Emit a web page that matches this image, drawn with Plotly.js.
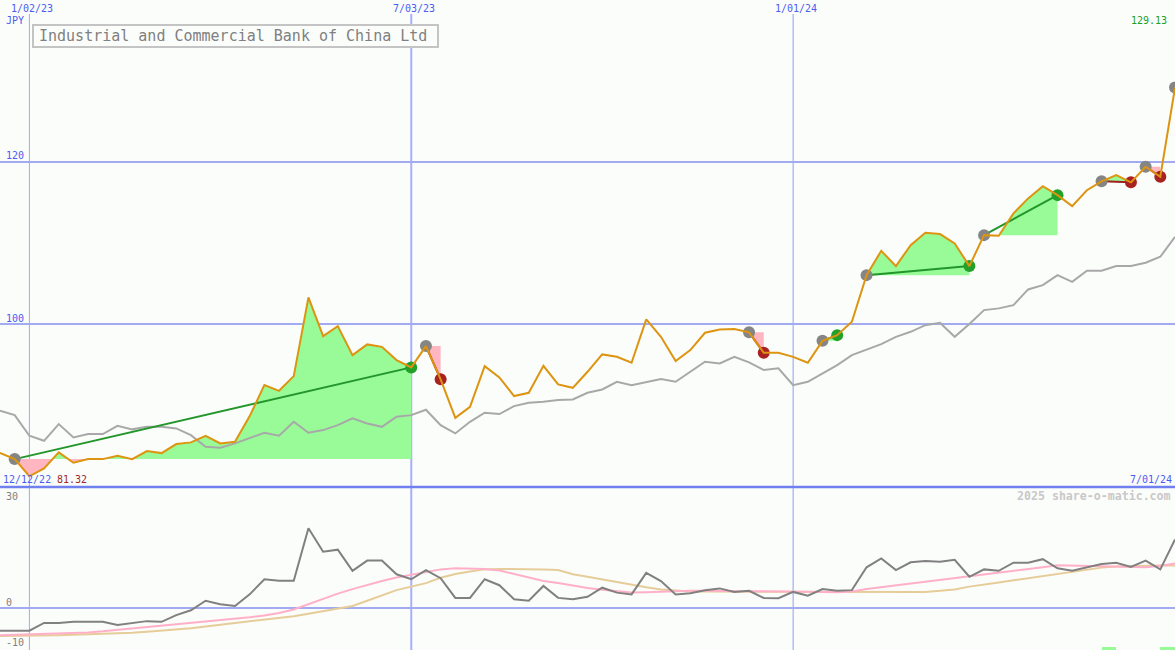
<!DOCTYPE html>
<html><head><meta charset="utf-8">
<script src="https://cdn.plot.ly/plotly-3.0.1.min.js"></script>
<style>html,body{margin:0;padding:0;background:#fbfdfb;} #chart{width:1175px;height:650px;}</style>
</head><body><div id="chart"></div>
<script>
const dates = ['2022-12-19','2022-12-26','2023-01-02','2023-01-09','2023-01-16','2023-01-23','2023-01-30','2023-02-06','2023-02-13','2023-02-20',
'2023-02-27','2023-03-06','2023-03-13','2023-03-20','2023-03-27','2023-04-03','2023-04-10','2023-04-17','2023-04-24','2023-05-01',
'2023-05-08','2023-05-15','2023-05-22','2023-05-29','2023-06-05','2023-06-12','2023-06-19','2023-06-26','2023-07-03','2023-07-10',
'2023-07-17','2023-07-24','2023-07-31','2023-08-07','2023-08-14','2023-08-21','2023-08-28','2023-09-04','2023-09-11','2023-09-18',
'2023-09-25','2023-10-02','2023-10-09','2023-10-16','2023-10-23','2023-10-30','2023-11-06','2023-11-13','2023-11-20','2023-11-27',
'2023-12-04','2023-12-11','2023-12-18','2023-12-25','2024-01-01','2024-01-08','2024-01-15','2024-01-22','2024-01-29','2024-02-05',
'2024-02-12','2024-02-19','2024-02-26','2024-03-04','2024-03-11','2024-03-18','2024-03-25','2024-04-01','2024-04-08','2024-04-15',
'2024-04-22','2024-04-29','2024-05-06','2024-05-13','2024-05-20','2024-05-27','2024-06-03','2024-06-10','2024-06-17','2024-06-24','2024-07-01'];

const price = [84.2,83.43,81.32,82.29,84.26,82.98,83.43,83.43,83.84,83.43,
84.42,84.17,85.28,85.49,86.3,85.36,85.56,88.72,92.53,91.83,
93.64,103.32,98.56,99.79,96.22,97.54,97.24,95.61,94.71,97.33,
93.24,88.51,89.86,94.87,93.48,91.18,91.59,94.91,92.62,92.2,
94.17,96.31,96.01,95.28,100.61,98.47,95.49,96.84,98.97,99.38,
99.42,99.02,96.51,96.51,96.01,95.28,97.98,98.68,100.32,106.06,
109.05,107.17,109.75,111.27,111.11,109.96,107.17,110.98,110.9,113.65,
115.5,117.0,115.9,114.55,116.5,117.6,118.36,117.47,119.39,118.16,129.13];

const compare = [89.37,88.84,86.3,85.68,87.74,86.1,86.51,86.51,87.53,87.09,
87.4,87.4,87.2,86.38,84.95,84.82,85.36,86.05,86.67,86.3,
88.02,86.67,87.0,87.61,88.44,87.82,87.4,88.64,88.84,89.5,
87.61,86.59,88.02,89.13,88.97,89.95,90.36,90.48,90.69,90.77,
91.59,92.0,92.94,92.53,92.94,93.27,92.94,94.17,95.4,95.2,
96.01,95.33,94.38,94.59,92.53,92.94,93.97,95.0,96.22,96.92,
97.58,98.47,99.09,99.9,100.2,98.47,100.04,101.76,101.97,102.37,
104.3,104.83,106.06,105.24,106.6,106.6,107.17,107.17,107.58,108.32,110.78];

const osc = [-6.5,-6.5,-6.5,-4.3,-4.3,-4.0,-4.0,-4.0,-4.9,-4.4,
-3.8,-4.0,-2.1,-0.7,2.0,1.0,0.5,3.8,8.1,7.7,
7.7,22.6,15.9,16.5,10.5,13.4,13.4,9.5,8.1,10.7,
8.4,2.8,2.8,8.1,6.4,2.4,2.0,6.2,2.8,2.4,
3.1,5.7,4.3,3.8,9.9,7.6,3.8,4.1,5.0,5.5,
4.5,4.8,2.8,2.7,4.5,3.4,5.3,4.8,5.0,11.5,
14.0,10.7,12.9,13.3,13.1,13.6,8.8,10.9,10.5,12.8,
12.8,13.8,11.2,10.5,11.5,12.4,12.8,11.6,13.4,10.9,19.4];

const oscFast = [-7.8,-7.7,-7.6,-7.5,-7.4,-7.2,-7.0,-6.7,-6.3,-6.0,
-5.6,-5.3,-4.9,-4.5,-4.0,-3.6,-3.1,-2.7,-2.2,-1.5,
-0.5,1.0,2.6,4.0,5.3,6.5,7.6,8.6,9.3,10.0,
10.9,11.2,11.2,11.0,10.6,9.6,8.5,7.6,7.0,6.2,
5.6,5.1,4.6,4.3,4.4,4.6,4.8,4.8,4.8,4.7,
4.7,4.7,4.7,4.7,4.7,4.6,4.5,4.4,4.6,5.3,
5.8,6.3,6.9,7.4,7.9,8.4,8.9,9.3,9.8,10.3,
10.9,11.5,12.1,12.0,11.9,11.9,11.9,11.7,11.5,11.9,12.6];

const oscSlow = [-8.0,-8.0,-7.9,-7.9,-7.8,-7.7,-7.6,-7.5,-7.3,-7.1,
-6.8,-6.5,-6.2,-5.8,-5.3,-4.8,-4.4,-4.0,-3.5,-3.0,
-2.4,-1.7,-1.0,-0.3,0.5,2.0,3.5,5.0,6.0,7.0,
8.5,9.6,10.3,10.9,11.0,11.0,11.0,10.9,10.7,9.5,
8.8,8.0,7.3,6.5,5.8,5.2,4.8,4.6,4.6,4.6,
4.6,4.6,4.6,4.6,4.7,4.7,4.7,4.7,4.7,4.7,
4.7,4.6,4.5,4.5,4.8,5.2,6.0,6.5,7.2,7.8,
8.4,9.0,9.7,10.3,10.8,11.4,11.7,11.9,11.9,12.0,12.0];

const tradeEntry = [1,29,51,56,59,67,75,78,80];
const tradeExit  = [28,30,52,57,66,72,77,79,null];

const barDates = ['2024-05-27','2024-06-24'];
const barValues = [0.85,0.85];

const priceTicks = [100,120];
const oscGrid = [0];
const oscTicks = [30,0,-10];
const dateTicks = ['2023-01-02','2023-07-03','2024-01-01'];
const dateTickText = ['1/02/23','7/03/23','1/01/24'];
const titleText = 'Industrial and Commercial Bank of China Ltd';
const currency = 'JPY';
const startLabel = '12/12/22';
const endLabel = '7/01/24';
const watermark = '2025 share-o-matic.com';

const MONO = 'DejaVu Sans Mono, Liberation Mono, monospace';
const BLUE = '#4c5cf0';
const GRID = '#a2aaf2';
const GREEN_FILL = '#98fb98';
const PINK_FILL = '#ffb6c1';
const tms = dates.map(d => Date.parse(d + 'T00:00:00Z'));

const traces = [];

// trade fills
tradeEntry.forEach((a, k) => {
  const b = tradeExit[k];
  if (b === null) return;
  const L = price[a];
  const xs = [tms[a]], up = [Math.max(price[a], L)], dn = [Math.min(price[a], L)];
  for (let j = a; j < b; j++) {
    const p0 = price[j] - L, p1 = price[j + 1] - L;
    if (p0 * p1 < 0) {
      const f = p0 / (p0 - p1);
      xs.push(tms[j] + f * (tms[j + 1] - tms[j])); up.push(L); dn.push(L);
    }
    xs.push(tms[j + 1]); up.push(Math.max(price[j + 1], L)); dn.push(Math.min(price[j + 1], L));
  }
  traces.push({x: xs.concat([tms[b], tms[a]]), y: up.concat([L, L]), xaxis:'x', yaxis:'y',
    mode:'lines', fill:'toself', fillcolor:GREEN_FILL, line:{width:0}, hoverinfo:'skip'});
  traces.push({x: xs.concat([tms[b], tms[a]]), y: dn.concat([L, L]), xaxis:'x', yaxis:'y',
    mode:'lines', fill:'toself', fillcolor:PINK_FILL, line:{width:0}, hoverinfo:'skip'});
});

// comparison line
traces.push({x: dates, y: compare, xaxis:'x', yaxis:'y', mode:'lines', line:{color:'#a8a8a8', width:2}, hoverinfo:'skip'});

// trade lines
tradeEntry.forEach((a, k) => {
  const b = tradeExit[k];
  if (b === null) return;
  const win = price[b] >= price[a];
  traces.push({x:[dates[a], dates[b]], y:[price[a], price[b]], xaxis:'x', yaxis:'y', mode:'lines',
    line:{color: win ? '#22962a' : '#a02020', width:2}, hoverinfo:'skip'});
});

// markers
traces.push({x: tradeEntry.map(i => dates[i]), y: tradeEntry.map(i => price[i]), xaxis:'x', yaxis:'y',
  mode:'markers', marker:{color:'#858585', size:12}, cliponaxis:false, hoverinfo:'skip'});
const exits = tradeExit.map((b, k) => [b, tradeEntry[k]]).filter(p => p[0] !== null);
traces.push({x: exits.map(p => dates[p[0]]), y: exits.map(p => price[p[0]]), xaxis:'x', yaxis:'y',
  mode:'markers', marker:{color: exits.map(p => price[p[0]] >= price[p[1]] ? '#22a02a' : '#a82222'), size:12},
  cliponaxis:false, hoverinfo:'skip'});

// price line
traces.push({x: dates, y: price, xaxis:'x', yaxis:'y', mode:'lines', line:{color:'#dd9411', width:2}, hoverinfo:'skip'});

// oscillator panel
traces.push({x: barDates, y: barValues, base: -12, type:'bar', xaxis:'x2', yaxis:'y2',
  width: 7*86400000, offset: 0, marker:{color:GREEN_FILL}, hoverinfo:'skip'});
traces.push({x: dates, y: oscSlow, xaxis:'x2', yaxis:'y2', mode:'lines', line:{color:'#e6cc98', width:2}, hoverinfo:'skip'});
traces.push({x: dates, y: oscFast, xaxis:'x2', yaxis:'y2', mode:'lines', line:{color:'#ffb0c8', width:2}, hoverinfo:'skip'});
traces.push({x: dates, y: osc, xaxis:'x2', yaxis:'y2', mode:'lines', line:{color:'#808080', width:2}, hoverinfo:'skip'});

const D = 163/650;
const xax = {type:'date', range:['2022-12-19','2024-07-01'], showticklabels:false,
  showgrid:false, zeroline:false, showline:false, ticks:'', fixedrange:true};

const annotations = [];
dateTicks.forEach((d, k) => annotations.push({xref:'x', yref:'paper', x:d, y:1-9/650, text:dateTickText[k],
  showarrow:false, xanchor:'center', yanchor:'middle', xshift:3, font:{family:MONO, size:10, color:BLUE}}));
priceTicks.forEach(v => annotations.push({xref:'paper', yref:'y', x:4/1175, y:v, yshift:6, text:String(v),
  showarrow:false, xanchor:'left', yanchor:'middle', font:{family:MONO, size:10, color:BLUE}}));
oscTicks.forEach(v => annotations.push({xref:'paper', yref:'y2', x:4/1175, y:v, yshift: v < 0 ? 0 : 5.5, text:String(v),
  showarrow:false, xanchor:'left', yanchor:'middle', font:{family:MONO, size:10, color:'#808080'}}));
annotations.push({xref:'paper', yref:'paper', x:4/1175, y:1-21/650, text:currency, showarrow:false,
  xanchor:'left', yanchor:'middle', font:{family:MONO, size:10, color:BLUE}});
annotations.push({xref:'paper', yref:'paper', x:1169/1175, y:1-21/650, text:Math.max(...price).toFixed(2), showarrow:false,
  xanchor:'right', yanchor:'middle', font:{family:MONO, size:10, color:'#20a020'}});
annotations.push({xref:'paper', yref:'paper', x:1/1175, y:1-479/650, text:startLabel, showarrow:false,
  xanchor:'left', yanchor:'middle', font:{family:MONO, size:10, color:BLUE}});
annotations.push({xref:'paper', yref:'paper', x:55/1175, y:1-479/650, text:Math.min(...price).toFixed(2), showarrow:false,
  xanchor:'left', yanchor:'middle', font:{family:MONO, size:10, color:'#a02828'}});
annotations.push({xref:'paper', yref:'paper', x:1174/1175, y:1-479/650, text:endLabel, showarrow:false,
  xanchor:'right', yanchor:'middle', font:{family:MONO, size:10, color:BLUE}});
annotations.push({xref:'paper', yref:'paper', x:1173/1175, y:1-496/650, text:watermark, showarrow:false,
  xanchor:'right', yanchor:'middle', font:{family:MONO, size:11.6, color:'#c8c8c8', weight:'bold'}});
annotations.push({xref:'paper', yref:'paper', x:37/1175, y:1-36.5/650, text:titleText, showarrow:false,
  xanchor:'left', yanchor:'middle', font:{family:MONO, size:15, color:'#808080'}});

const vWidths = [1, 2, 1];
const vColors = ['#a0a8f0', '#a8b0f4', '#959df0'];
const shapes = dateTicks.map((d, k) => ({type:'line', xref:'x', yref:'paper', x0:d, x1:d, y0:0, y1:1-14/650,
  line:{color:vColors[k], width:vWidths[k]}, layer:'below'}));
shapes.push({type:'line', xref:'paper', yref:'paper', x0:0, x1:1, y0:D, y1:D, line:{color:'#7080f0', width:2.5}});
shapes.push({type:'rect', xref:'paper', yref:'paper', x0:33/1175, x1:438/1175, y0:1-47/650, y1:1-25/650,
  line:{color:'#c4c4c4', width:2}, fillcolor:'#fbfdfb', layer:'above'});

const layout = {
  width:1175, height:650, margin:{l:0, r:0, t:0, b:0},
  paper_bgcolor:'#fbfdfb', plot_bgcolor:'rgba(0,0,0,0)', showlegend:false, bargap:0,
  xaxis: Object.assign({}, xax, {anchor:'y', domain:[0,1]}),
  xaxis2: Object.assign({}, xax, {anchor:'y2', domain:[0,1], matches:'x'}),
  yaxis: {domain:[D,1], range:[80,139.9], tickvals:priceTicks, showticklabels:false, showgrid:true,
    gridcolor:GRID, gridwidth:2, zeroline:false, showline:false, ticks:'', fixedrange:true},
  yaxis2: {domain:[0,D], range:[-12,34.3], tickvals:oscGrid, showticklabels:false, showgrid:true,
    gridcolor:GRID, gridwidth:2, zeroline:false, showline:false, ticks:'', fixedrange:true},
  shapes: shapes,
  annotations: annotations
};

Plotly.newPlot('chart', traces, layout, {staticPlot:true, displayModeBar:false});
</script>
</body></html>
